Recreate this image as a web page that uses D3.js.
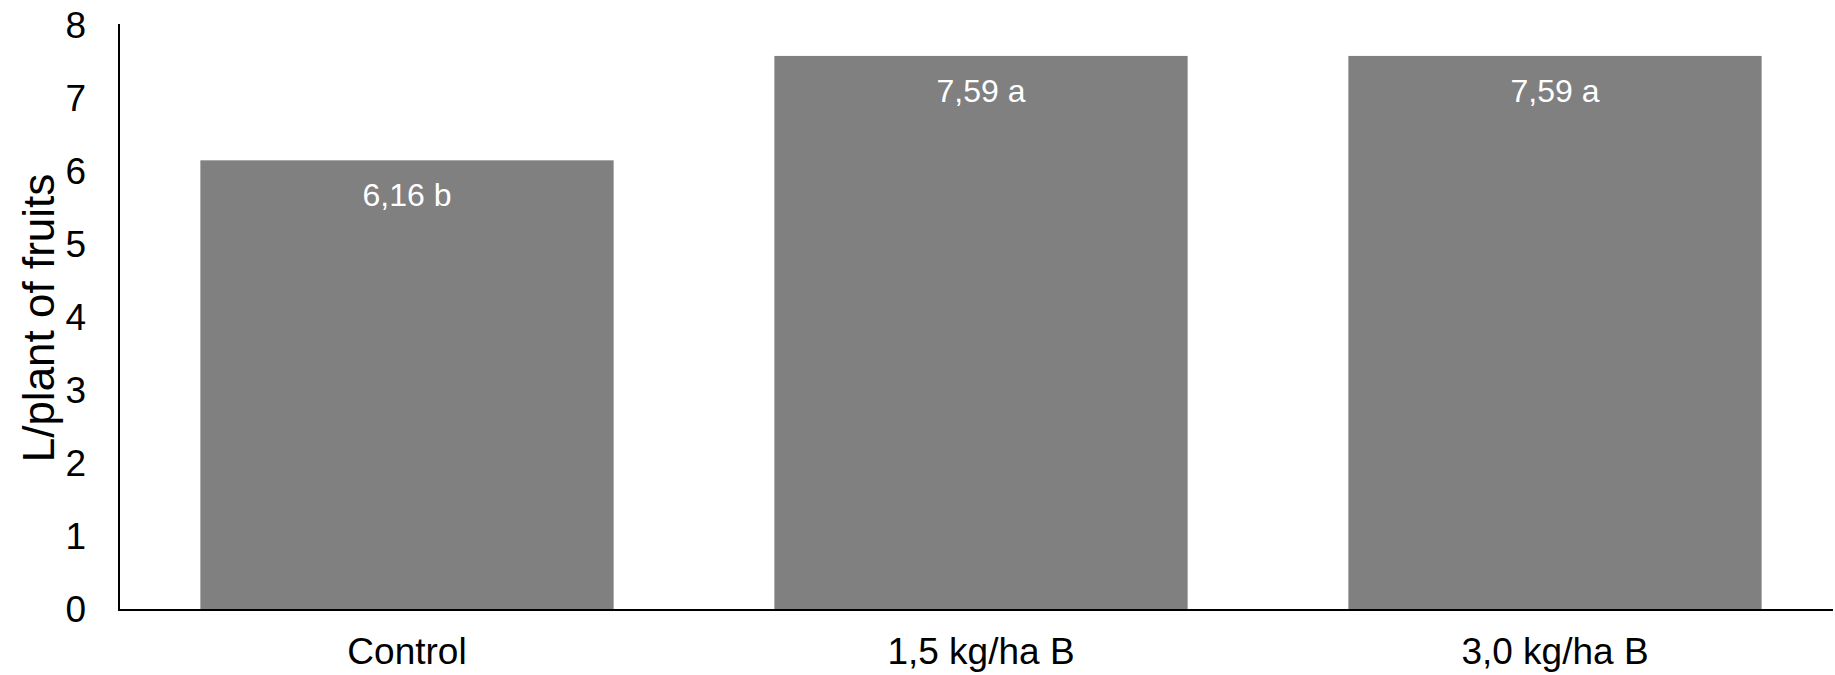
<!DOCTYPE html>
<meta charset="utf-8">
<style>
body{margin:0;background:#fff;}
text{font-family:Arial,"Liberation Sans",Helvetica,sans-serif;fill:#000;}
.axis path{stroke:#000;stroke-width:2px;}
.axis text{font-size:37px;}
.bar{fill:#808080;}
.val{fill:#fff;font-size:32px;text-anchor:middle;}
</style>
<body>
<script src="https://d3js.org/d3.v7.min.js"></script>
<script>

var categories=["Control","1,5 kg/ha B","3,0 kg/ha B"];
var values=[6.16,7.59,7.59];
var letters=["b","a","a"];
var yTicks=[0,1,2,3,4,5,6,7,8];

var W=1835,H=675;
var svg=d3.select("body").append("svg").attr("width",W).attr("height",H);

var x=d3.scaleBand().domain(categories).range([120,1842]).paddingInner(0.28).paddingOuter(0.14);
var y=d3.scaleLinear().domain([0,8]).range([610,26]);

svg.selectAll(".bar").data(values).enter().append("rect")
	.attr("class","bar")
	.attr("x",(d,i)=>x(categories[i]))
	.attr("width",x.bandwidth())
	.attr("y",d=>y(d))
	.attr("height",d=>y(0)-y(d));

svg.selectAll(".val").data(values).enter().append("text")
	.attr("class","val")
	.attr("x",(d,i)=>x(categories[i])+x.bandwidth()/2)
	.attr("y",d=>y(d)+46)
	.text((d,i)=>d.toFixed(2).replace(".",",")+" "+letters[i]);

var yAxis=svg.append("g").attr("class","axis").attr("transform","translate(119,0)")
	.call(d3.axisLeft(y).tickValues(yTicks).tickSize(0).tickPadding(33));
yAxis.select(".domain").attr("d","M0,"+(y(8)-2)+"V"+y(0));

var xAxis=svg.append("g").attr("class","axis").attr("transform","translate(0,"+y(0)+")")
	.call(d3.axisBottom(x).tickSize(0).tickPadding(28));
xAxis.select(".domain").attr("d","M118,0H1833");

svg.append("text")
	.attr("transform","translate(54,"+((y(0)+y(8))/2)+") rotate(-90)")
	.attr("text-anchor","middle")
	.style("font-size","44px")
	.text("L/plant of fruits");

</script>
</body>
